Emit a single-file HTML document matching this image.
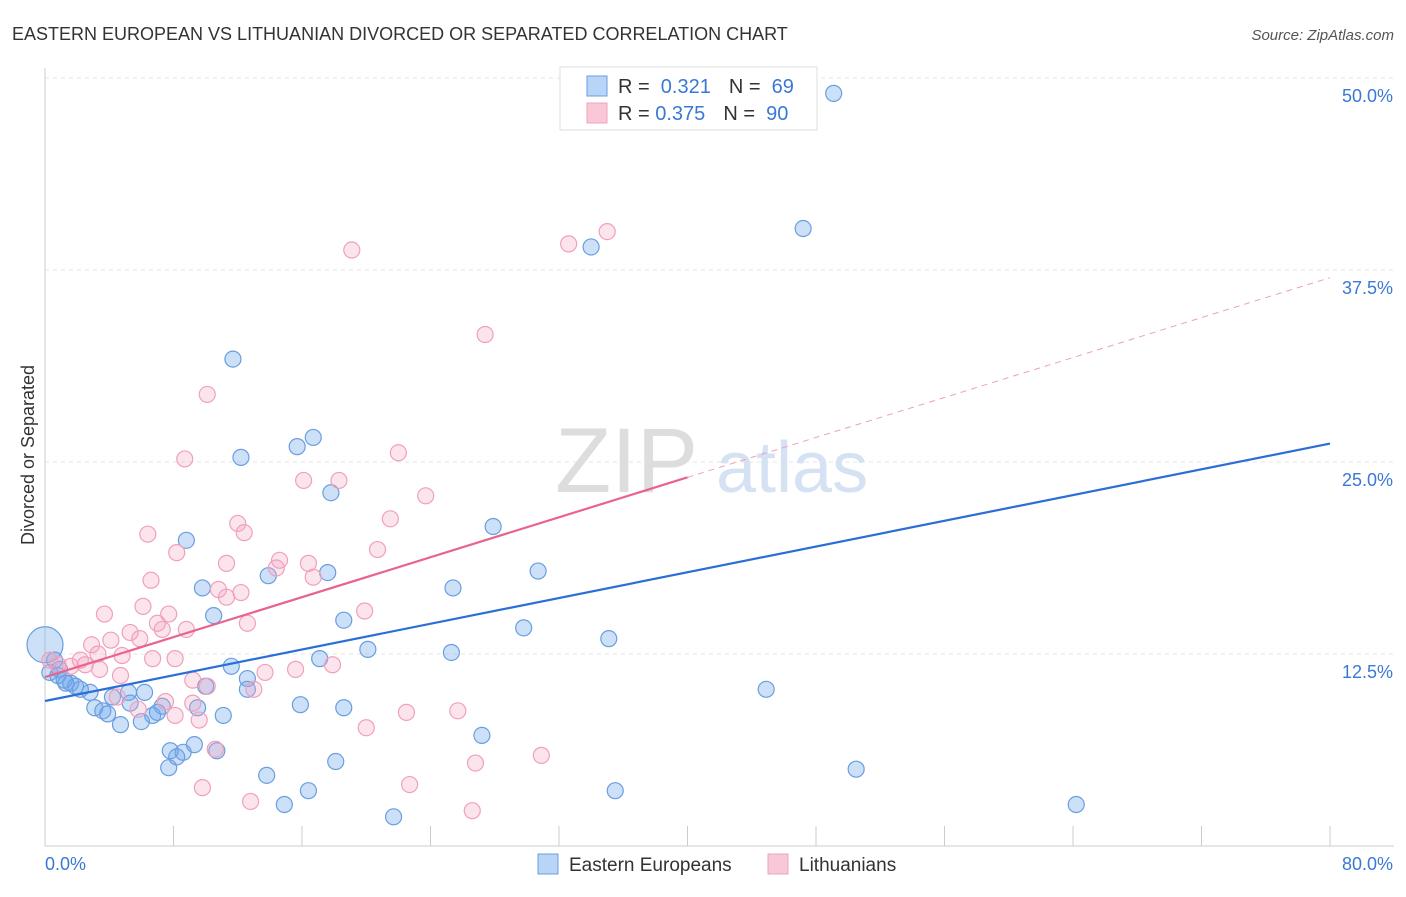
<!DOCTYPE html>
<html><head><meta charset="utf-8"><style>
body{margin:0;background:#fff;font-family:"Liberation Sans",sans-serif;}
svg text{font-family:"Liberation Sans",sans-serif;}
</style></head><body>
<svg id="chart" width="1406" height="892" viewBox="0 0 1406 892" xmlns="http://www.w3.org/2000/svg">
<text x="12" y="40" font-size="18" fill="#333">EASTERN EUROPEAN VS LITHUANIAN DIVORCED OR SEPARATED CORRELATION CHART</text>
<text x="1394" y="40" font-size="15" fill="#555" font-style="italic" text-anchor="end">Source: ZipAtlas.com</text>
<g id="grid"></g>
<g><text x="555" y="492" font-size="92" fill="#ddd" font-family="Liberation Serif">ZIP</text><text x="716" y="492" font-size="72" fill="#d4e2f4">atlas</text></g>
<g id="axes"></g>
<g id="pts"></g>
<g id="lines"></g>
<text x="34" y="455" font-size="18" fill="#333" text-anchor="middle" transform="rotate(-90 34 455)">Divorced or Separated</text>
<g>
<rect x="560" y="67" width="257" height="63" fill="#fff" stroke="#ddd"/>
<rect x="587" y="76" width="20" height="20" fill="#b8d4f6" stroke="#6a9ee0"/>
<rect x="587" y="103" width="20" height="20" fill="#f9c8d8" stroke="#f0a0bc"/>
<text x="618" y="93" font-size="20" fill="#333">R = <tspan fill="#3b78d4">&#160;0.321</tspan><tspan dx="18">N = </tspan><tspan fill="#3b78d4">&#160;69</tspan></text>
<text x="618" y="120" font-size="20" fill="#333">R = <tspan fill="#3b78d4">0.375</tspan><tspan dx="18">N = </tspan><tspan fill="#3b78d4">&#160;90</tspan></text>
</g>
<g>
<rect x="538" y="854" width="20" height="20" fill="#b8d4f6" stroke="#6a9ee0"/>
<text x="569" y="871" font-size="19" fill="#333">Eastern Europeans</text>
<rect x="768" y="854" width="20" height="20" fill="#f9c8d8" stroke="#f0a0bc"/>
<text x="799" y="871" font-size="19" fill="#333">Lithuanians</text>
</g>
</svg>
<script>
const blueX=[49.1,47.2,34.0,11.7,16.7,15.7,12.2,17.8,27.9,8.8,30.7,13.9,17.6,9.8,25.4,10.5,18.6,29.8,35.1,20.1,25.3,17.1,11.6,12.6,44.9,10.0,12.6,6.2,5.2,2.8,4.2,5.3,7.3,9.5,15.9,18.6,3.1,3.6,3.9,6.7,7.0,11.1,4.7,6.0,27.2,9.3,7.8,8.6,8.2,10.7,18.1,7.7,50.5,13.8,35.5,16.4,14.9,64.2,21.7,0.0,0.6,0.9,1.2,1.6,1.9,2.2,0.3,0.8,1.3];
const blueY=[49.0,40.2,39.0,31.7,26.6,26.0,25.3,23.0,20.8,19.9,17.9,17.6,17.8,16.8,16.8,15.0,14.7,14.2,13.5,12.8,12.6,12.2,11.7,10.9,10.2,10.4,10.2,10.0,10.0,10.0,9.7,9.3,9.1,9.0,9.2,9.0,9.0,8.8,8.6,8.5,8.7,8.5,7.9,8.1,7.2,6.6,6.2,6.1,5.8,6.2,5.5,5.1,5.0,4.6,3.6,3.6,2.7,2.7,1.9,13.1,12.1,11.5,10.8,10.6,10.4,10.2,11.3,11.1,10.6];
const pinkX=[19.1,32.6,35.0,27.4,10.1,8.7,22.0,16.1,18.3,23.7,21.5,12.0,12.4,6.4,8.2,20.7,14.6,16.4,14.4,11.3,16.7,6.6,10.8,12.2,11.3,3.7,6.1,7.7,19.9,7.0,7.3,8.8,5.3,12.6,5.9,4.1,2.9,3.3,4.8,6.7,8.1,13.7,15.6,17.9,2.2,2.5,3.4,1.6,0.8,0.3,4.7,9.2,10.1,13.0,7.5,9.2,8.1,9.6,4.5,5.8,22.5,25.7,20.0,10.6,30.9,26.8,9.8,22.7,12.8,26.6];
const pinkY=[38.8,39.2,40.0,33.3,29.4,25.2,25.6,23.8,23.8,22.8,21.3,21.0,20.4,20.3,19.1,19.3,18.6,18.4,18.1,18.4,17.5,17.3,16.7,16.5,16.2,15.1,15.6,15.1,15.3,14.5,14.1,14.1,13.9,14.5,13.5,13.4,13.1,12.5,12.4,12.2,12.2,11.3,11.5,11.8,12.1,11.8,11.5,11.7,11.8,12.1,11.1,10.8,10.4,10.2,9.4,9.3,8.5,8.2,9.7,8.9,8.7,8.8,7.7,6.3,5.9,5.4,3.8,4.0,2.9,2.3];
const yTicks=[12.5,25.0,37.5,50.0];
const yTickLabels=["12.5%","25.0%","37.5%","50.0%"];
const xTicks=[0,8,16,24,32,40,48,56,64,72,80];
const blueTrend=[9.44,26.2];   // y at x=0, x=80
const pinkTrend=[11.0,37.0];   // y at x=0, x=80 (solid to x=40)
const X=v=>45+v*1285/80, Y=v=>846-v*15.36;
const NS="http://www.w3.org/2000/svg";
function mk(t,a,p){const e=document.createElementNS(NS,t);for(const k in a)e.setAttribute(k,a[k]);p.appendChild(e);return e;}
const grid=document.getElementById('grid'),axes=document.getElementById('axes'),pts=document.getElementById('pts'),lines=document.getElementById('lines');
yTicks.forEach((t,i)=>{
 const l=mk('line',{x1:45,x2:1394,y1:Y(t),y2:Y(t),stroke:'#e4e4e4','stroke-dasharray':'4,4'},grid);
 
 
 const tx=mk('text',{x:1393,y:Y(t)+24,'font-size':18,fill:'#3b78d4','text-anchor':'end'},axes);
 tx.textContent=yTickLabels[i];
 
 
});
const ax=mk('line',{x1:45,x2:1394,y1:846,y2:846,stroke:'#ccc'},axes);


const ay=mk('line',{x1:45,x2:45,y1:68,y2:846,stroke:'#ccc'},axes);


xTicks.forEach(t=>{
 const l=mk('line',{x1:X(t),x2:X(t),y1:826,y2:846,stroke:'#ccc'},axes);
 
 
});
[[0,'0.0%','start',45],[80,'80.0%','end',1393]].forEach(d=>{
 const tx=mk('text',{x:d[3],y:870,'font-size':18,fill:'#3b78d4','text-anchor':d[2]},axes);
 tx.textContent=d[1];
 
 
});
blueX.forEach((x,i)=>{
 const r=(x===0&&blueY[i]>13)?18:8;
 const c=mk('circle',{cx:X(x),cy:Y(blueY[i]),r:r,fill:'rgba(110,165,235,0.35)',stroke:'#6a9ee0','stroke-width':1.2},pts);
 
 
});
pinkX.forEach((x,i)=>{
 const c=mk('circle',{cx:X(x),cy:Y(pinkY[i]),r:8,fill:'rgba(245,165,195,0.3)',stroke:'#f0a0bc','stroke-width':1.2},pts);
 
 
});
const bl=mk('line',{x1:X(0),y1:Y(blueTrend[0]),x2:X(80),y2:Y(blueTrend[1]),stroke:'#2a6fd6','stroke-width':2.2},lines);


const pm=pinkTrend[0]+(pinkTrend[1]-pinkTrend[0])*0.5;
const pl=mk('line',{x1:X(0),y1:Y(pinkTrend[0]),x2:X(40),y2:Y(pm),stroke:'#e8648e','stroke-width':2.2},lines);


const pd=mk('line',{x1:X(40),y1:Y(pm),x2:X(80),y2:Y(pinkTrend[1]),stroke:'#eda0b8','stroke-width':1,'stroke-dasharray':'6,5'},lines);


</script>
</body></html>
